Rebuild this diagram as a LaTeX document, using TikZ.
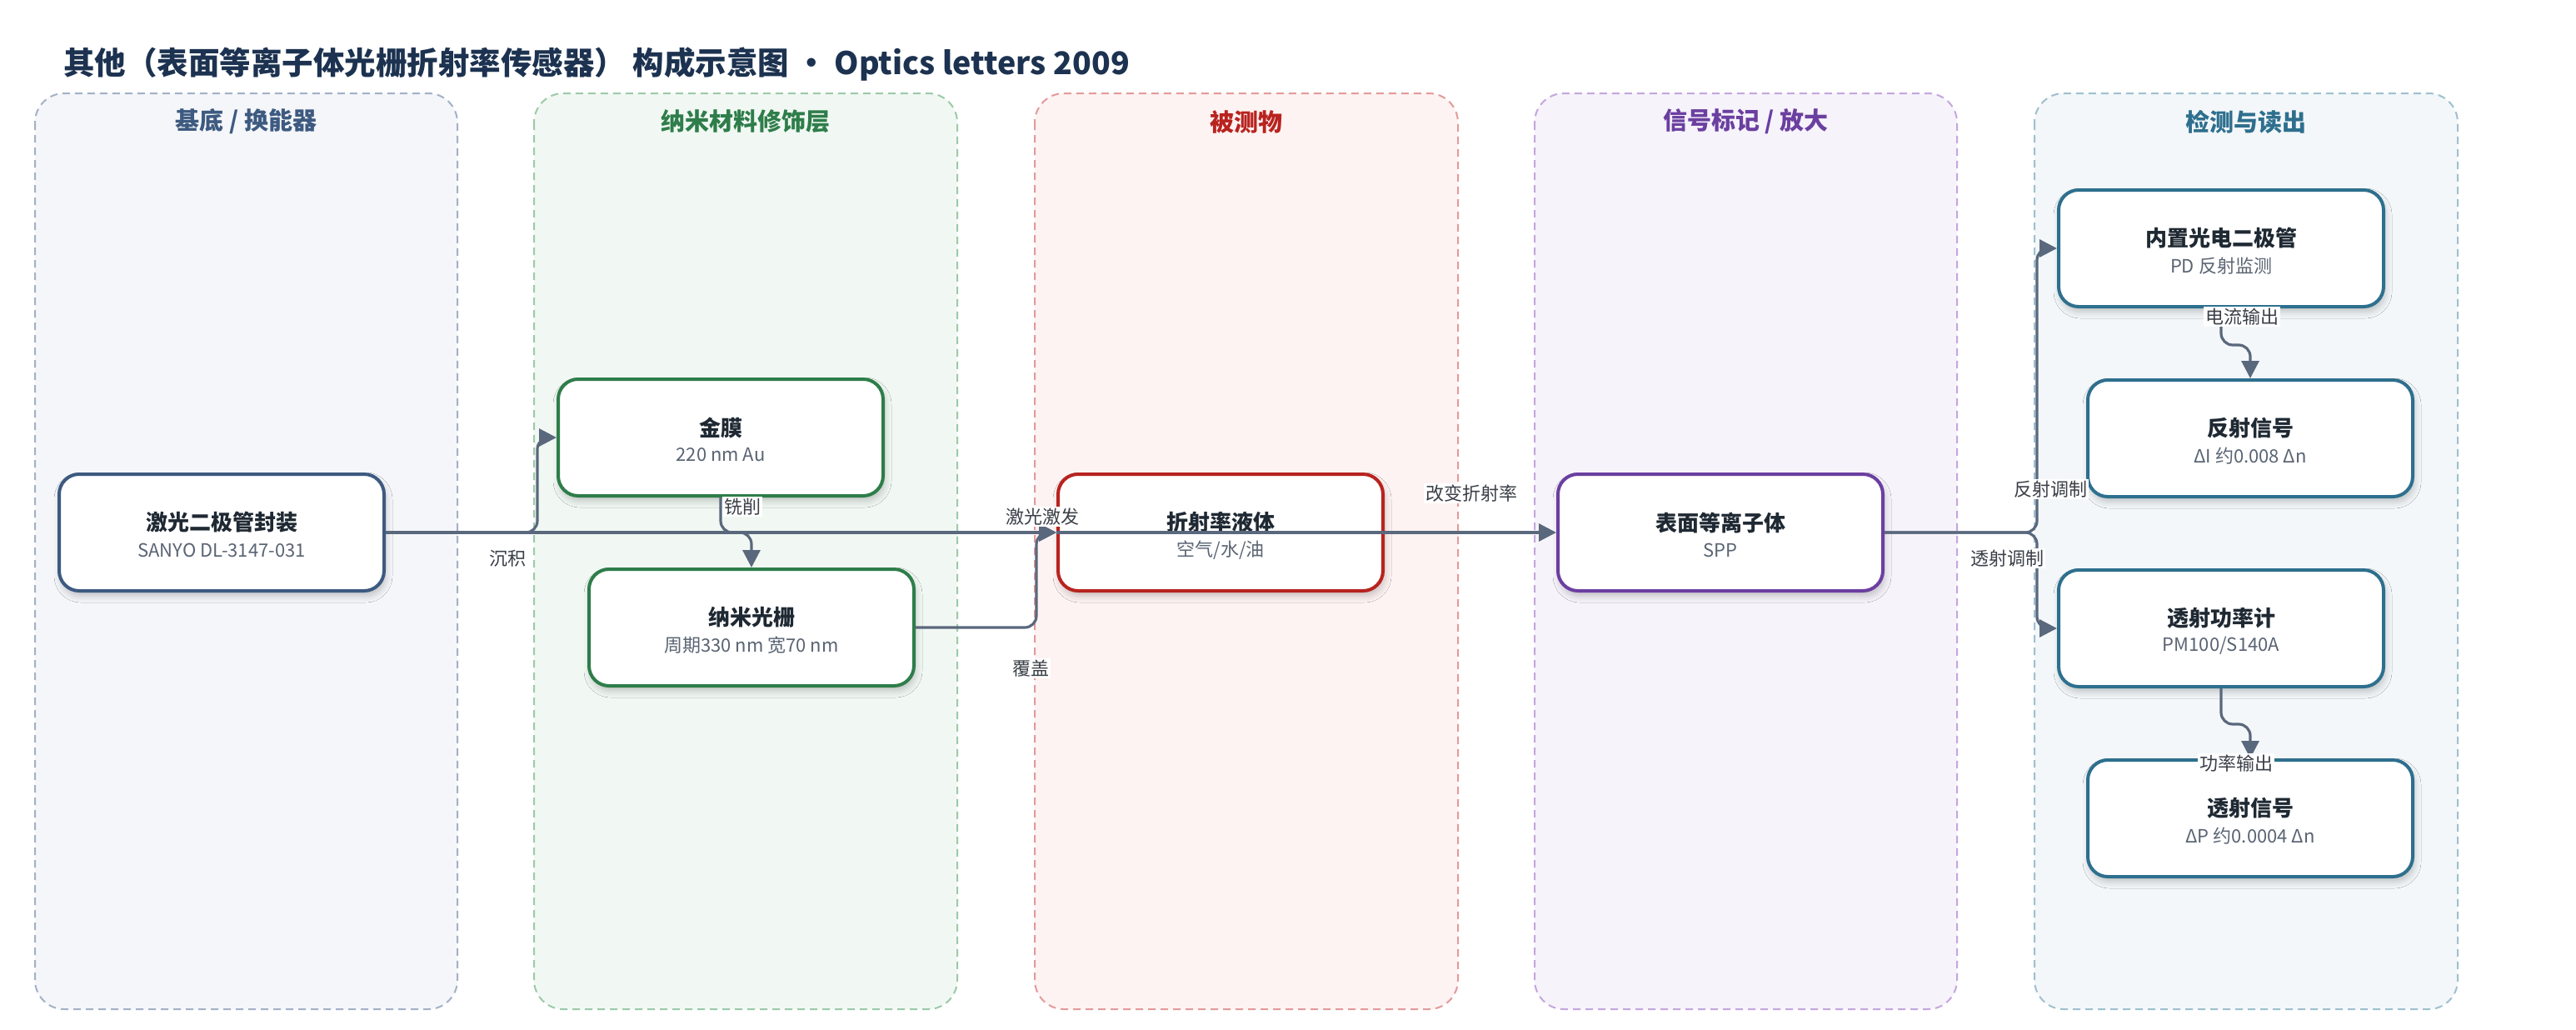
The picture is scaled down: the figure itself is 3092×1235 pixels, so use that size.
\documentclass[tikz,border=0pt]{standalone}
\usepackage{fontspec}
\setmainfont{Noto Sans CJK SC}
\usetikzlibrary{arrows.meta,shadows.blur}
\definecolor{titlec}{HTML}{1C3250}
\definecolor{aF}{HTML}{F5F6FA}\definecolor{aB}{HTML}{A3B1C6}\definecolor{aT}{HTML}{3D5A80}
\definecolor{bF}{HTML}{F1F8F3}\definecolor{bB}{HTML}{9CC9A9}\definecolor{bT}{HTML}{2E7D4A}
\definecolor{cF}{HTML}{FDF3F2}\definecolor{cB}{HTML}{E39A9A}\definecolor{cT}{HTML}{B8231F}
\definecolor{dF}{HTML}{F6F3FB}\definecolor{dB}{HTML}{C4A6DD}\definecolor{dT}{HTML}{6B3FA0}
\definecolor{eF}{HTML}{F3F7F9}\definecolor{eB}{HTML}{9EC0CF}\definecolor{eT}{HTML}{2E6F8E}
\definecolor{edgec}{HTML}{5A687D}
\definecolor{ttlc}{HTML}{1F2933}
\definecolor{subc}{HTML}{5A6473}
\definecolor{lblc}{HTML}{3A3F47}
\newcommand\mkbox[6]{%
  \node[box, draw=#4] (#1) at (#2,#3) {};
  \node[ttl] (#1-t) at ([yshift=12pt]#1.center) {#5};
  \node[subt] (#1-s) at ([yshift=-21pt]#1.center) {#6};
}
\begin{document}
\begin{tikzpicture}[x=1pt,y=-1pt,
  panel/.style={line width=2pt, dash pattern=on 9pt off 6pt, rounded corners=35pt},
  ptitle/.style={font=\fontsize{29}{32}\selectfont\bfseries, inner sep=0pt},
  box/.style={minimum width=390pt, minimum height=140pt, rounded corners=24pt, line width=4pt, fill=white,
    blur shadow={shadow xshift=2pt, shadow yshift=-6pt, shadow blur radius=8pt, shadow opacity=22}},
  ttl/.style={font=\fontsize{26}{30}\selectfont\bfseries, text=ttlc, inner sep=0pt},
  subt/.style={font=\fontsize{22}{26}\selectfont, text=subc, inner sep=0pt},
  conn/.style={draw=edgec, line width=3.2pt, rounded corners=14pt, -{Triangle[length=21pt,width=21pt]}},
  elabel/.style={font=\fontsize{22}{26}\selectfont, text=lblc, fill=white, inner sep=2pt}]
\useasboundingbox[fill=white] (0,0) rectangle (3092,1235);

\node[anchor=west, font=\fontsize{37.5}{42}\selectfont\bfseries, text=titlec, inner sep=0pt] (title) at (76,77)
  {其他（表面等离子体光栅折射率传感器） 构成示意图 · Optics letters 2009};

% panels
\draw[panel, draw=aB, fill=aF] (42,112) rectangle (549,1211);
\draw[panel, draw=bB, fill=bF] (641,112) rectangle (1149,1211);
\draw[panel, draw=cB, fill=cF] (1242,112) rectangle (1750,1211);
\draw[panel, draw=dB, fill=dF] (1842,112) rectangle (2349,1211);
\draw[panel, draw=eB, fill=eF] (2442,112) rectangle (2950,1211);
\node[ptitle, text=aT] (p1) at (295.5,146) {基底 / 换能器};
\node[ptitle, text=bT] (p2) at (895,146) {纳米材料修饰层};
\node[ptitle, text=cT] (p3) at (1496,146) {被测物};
\node[ptitle, text=dT] (p4) at (2095.5,146) {信号标记 / 放大};
\node[ptitle, text=eT] (p5) at (2696,146) {检测与读出};

% nodes
\mkbox{laser}{266}{639}{aT}{激光二极管封装}{SANYO DL-3147-031}
\mkbox{jinmo}{865}{525}{bT}{金膜}{220 nm Au}
\mkbox{grating}{902}{753}{bT}{纳米光栅}{周期330 nm 宽70 nm}
\mkbox{liquid}{1465}{639}{cT}{折射率液体}{空气/水/油}
\mkbox{spp}{2065}{639}{dT}{表面等离子体}{SPP}
\mkbox{pd}{2666}{298}{eT}{内置光电二极管}{PD 反射监测}
\mkbox{refl}{2701}{526}{eT}{反射信号}{ΔI 约0.008 Δn}
\mkbox{meter}{2666}{754}{eT}{透射功率计}{PM100/S140A}
\mkbox{trans}{2701}{982}{eT}{透射信号}{ΔP 约0.0004 Δn}

% connectors
\draw[conn] (laser.east) -- ++(182,0) |- (jinmo.west);
\draw[conn] (jinmo.south) -- (jinmo.south |- laser.east) -| (grating.north);
\draw[conn] (grating.east) -- ++(145,0) |- (liquid.west);
\draw[conn] (laser.east) -- (liquid.west);
\draw[conn] (liquid.west) -- (spp.west);
\draw[conn] (spp.east) -- ++(183,0) |- (pd.west);
\draw[conn] (spp.east) -- ++(183,0) |- (meter.west);
\draw[conn] (pd.south) -- ++(0,44) -| (refl.north);
\draw[conn] (meter.south) -- ++(0,43) -| (trans.north);

% connector labels
\node[elabel] (l1) at (609,670) {沉积};
\node[elabel] (l2) at (891,608) {铣削};
\node[elabel] (l3) at (1237,802) {覆盖};
\node[elabel] (l4) at (1251,620) {激光激发};
\node[elabel] (l5) at (1766,592) {改变折射率};
\node[elabel] (l6) at (2461,587) {反射调制};
\node[elabel] (l7) at (2409,670) {透射调制};
\node[elabel] (l8) at (2691,380) {电流输出};
\node[elabel] (l9) at (2684,916) {功率输出};
\end{tikzpicture}
\end{document}
